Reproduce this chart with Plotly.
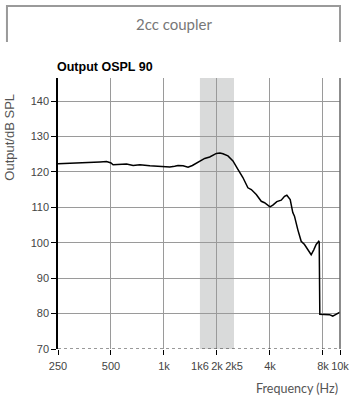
import plotly.graph_objects as go

# Measured OSPL90 response in a 2cc coupler
freq_hz = [250, 300, 350, 400, 433, 472, 500, 514, 560, 613, 668, 729, 831, 920,
           1000, 1079, 1150, 1202, 1284, 1370, 1450, 1528, 1596, 1703, 1819, 1900,
           1985, 2080, 2163, 2309, 2465, 2631, 2808, 2998, 3134, 3345, 3570, 3728,
           4000, 4155, 4377, 4636, 4840, 4988, 5213, 5393, 5513, 5757, 6018, 6285,
           6560, 6858, 7095, 7320, 7573, 7620, 7680, 7813, 8342, 8708, 9093, 9506,
           10000]
ospl_db = [122.3, 122.4, 122.6, 122.7, 122.8, 122.9, 122.5, 122.0, 122.1, 122.2,
           121.8, 122.0, 121.7, 121.5, 121.4, 121.4, 121.6, 121.8, 121.7, 121.3,
           121.8, 122.4, 123.1, 123.8, 124.2, 124.6, 125.2, 125.3, 125.1, 124.5,
           123.1, 120.7, 118.4, 115.5, 115.0, 113.6, 111.7, 111.3, 110.1, 110.6,
           111.6, 112.0, 113.1, 113.4, 112.2, 108.5, 107.5, 103.7, 100.4, 99.5,
           98.0, 96.6, 98.0, 99.5, 100.4, 100.2, 79.8, 79.8, 79.6, 79.7, 79.3,
           79.8, 80.4]

# Axis ticks
x_tick_vals = [250, 500, 1000, 1600, 2000, 2500, 4000, 8000, 10000]
x_tick_text = ["250", "500", "1k", "1k6", "2k", "2k5", "4k", "8k", "10k"]
x_grid_vals = [250, 500, 1000, 2000, 4000, 8000, 10000]
y_tick_vals = [70, 80, 90, 100, 110, 120, 130, 140]

# Highlighted frequency band
band_hz = [1600, 2500]

tick_font = dict(family="Liberation Sans, Arial, sans-serif",
                 size=11, color="#444444")

fig = go.Figure()
fig.add_trace(go.Scatter(x=freq_hz, y=ospl_db, mode="lines",
                         line=dict(color="black", width=1.5),
                         hoverinfo="skip", showlegend=False))

fig.update_xaxes(
    type="log",
    range=[2.39794, 4.0],
    tickvals=x_tick_vals, ticktext=x_tick_text, tickangle=0,
    ticks="", showgrid=False, zeroline=False, showline=False,
    tickfont=tick_font, ticklabelstandoff=9, automargin=False,
    minor=dict(tickvals=x_grid_vals, ticks="outside", ticklen=5,
               tickcolor="black", tickwidth=1,
               showgrid=True, gridcolor="#9a9a9a", gridwidth=1),
)
fig.update_yaxes(
    range=[70, 146.5],
    tickvals=y_tick_vals, automargin=False,
    ticks="outside", ticklen=5, tickcolor="black", tickwidth=1,
    showline=True, linecolor="black", linewidth=1.5,
    showgrid=True, gridcolor="#9a9a9a", gridwidth=1,
    zeroline=False, tickfont=tick_font,
)

shapes = [
    # shaded band behind the grid
    dict(type="rect", xref="x", yref="paper", x0=band_hz[0], x1=band_hz[1],
         y0=0, y1=1, fillcolor="#d9dada", line=dict(width=0), layer="below"),
    # dotted baseline
    dict(type="line", xref="paper", yref="y", x0=0, x1=1, y0=70, y1=70,
         line=dict(color="#333333", width=1, dash="dot")),
    # right border
    dict(type="line", xref="paper", yref="paper", x0=1, x1=1, y0=0, y1=1,
         line=dict(color="#666666", width=1.5)),
    # header frame
    dict(type="path", xref="paper", yref="paper",
         path="M -0.181 1.133 L -0.181 1.266 L 1.0 1.266 L 1.0 1.133",
         line=dict(color="#9a9a9a", width=2)),
]

annotations = [
    dict(text="2cc coupler", xref="paper", yref="paper", x=0.41, y=1.2,
         xanchor="center", yanchor="middle", showarrow=False,
         font=dict(family="Lato, Open Sans, sans-serif", size=15, color="#777777")),
    dict(text="<b>Output OSPL 90</b>", xref="paper", yref="paper", x=-0.01, y=1.04,
         xanchor="left", yanchor="middle", showarrow=False,
         font=dict(family="Liberation Sans, Arial, sans-serif", size=12.5, color="black")),
    dict(text="Output/dB SPL", xref="paper", yref="paper", x=-0.17, y=0.78,
         xanchor="center", yanchor="middle", textangle=-90, showarrow=False,
         font=dict(family="Liberation Sans, Arial, sans-serif", size=13, color="#555555")),
    dict(text="Frequency (Hz)", xref="paper", yref="paper", x=1.0, y=-0.145,
         xanchor="right", yanchor="middle", showarrow=False,
         font=dict(family="Lato, Open Sans, sans-serif", size=12.5, color="#555555")),
]

fig.update_layout(
    width=352, height=396,
    margin=dict(l=58, r=12, t=78, b=47, autoexpand=False),
    paper_bgcolor="white", plot_bgcolor="white",
    shapes=shapes, annotations=annotations,
    showlegend=False,
)

fig.write_html("out.html")
